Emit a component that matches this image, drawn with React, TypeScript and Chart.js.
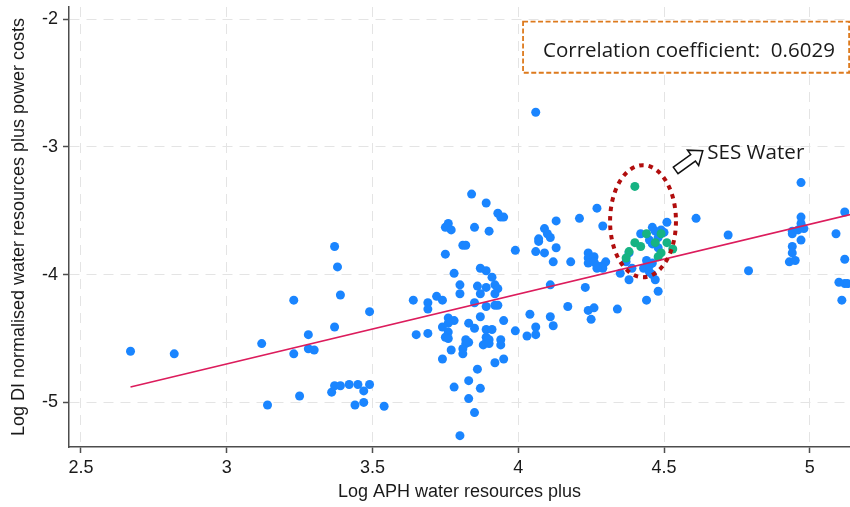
import React, { useEffect, useRef } from "react";
import { Chart, registerables } from "chart.js";

Chart.register(...registerables);

// Axis ticks
const xTicks = [2.5, 3, 3.5, 4, 4.5, 5];
const yTicks = [-5, -4, -3, -2];

// Water companies: log APH water resources plus (x) vs log DI normalised costs (y)
const companyX = [
  2.67, 2.82, 3.12, 3.14, 3.23, 3.23, 3.25, 3.28, 3.28, 3.30,
  3.37, 3.38, 3.39, 3.37, 3.36, 3.37, 3.39, 3.42, 3.45, 3.47,
  3.44, 3.47, 3.49, 3.49, 3.54, 3.64, 3.65, 3.69, 3.69, 3.69,
  3.72, 3.74, 3.75, 3.75, 3.76, 3.77, 3.78, 3.80, 3.80, 3.84,
  3.89, 3.85, 3.90, 3.93, 3.94, 3.95, 3.81, 3.82, 3.99, 3.87,
  3.89, 3.91, 3.86, 3.89, 3.87, 3.92, 3.93, 3.92, 3.85, 3.89,
  3.92, 3.93, 3.87, 3.95, 3.99, 4.03, 4.04, 3.74, 3.76, 3.78,
  3.76, 3.76, 3.75, 3.76, 3.83, 3.85, 3.77, 3.74, 3.82, 3.83,
  3.82, 3.81, 3.81, 3.89, 3.91, 3.89, 3.89, 3.90, 3.88, 3.90,
  3.94, 3.94, 3.92, 3.95, 3.86, 3.83, 3.78, 3.87, 3.83, 3.85,
  3.80, 4.06, 4.09, 4.10, 4.11, 4.07, 4.07, 4.13, 4.13, 4.06,
  4.09, 4.12, 4.18, 4.21, 4.27, 4.29, 4.24, 4.24, 4.26, 4.24,
  4.26, 4.27, 4.29, 4.30, 4.29, 4.27, 4.11, 4.23, 4.17, 4.24,
  4.26, 4.34, 4.25, 4.11, 4.06, 4.06, 4.12, 4.44, 4.48, 4.35,
  4.38, 4.39, 4.38, 4.43, 4.45, 4.46, 4.47, 4.45, 4.46, 4.37,
  4.44, 4.42, 4.46, 4.47, 4.49, 4.50, 4.51, 4.45, 4.48, 4.46,
  4.48, 4.61, 4.72, 4.79, 4.97, 4.97, 4.97, 4.94, 4.94, 4.96,
  4.98, 4.97, 4.94, 4.94, 4.93, 4.95, 5.12, 5.09, 5.12, 5.10,
  5.12, 5.13, 5.11,
];
const companyY = [
  -4.60, -4.62, -4.54, -5.02, -4.20, -4.62, -4.95, -4.47, -4.58, -4.59,
  -3.78, -3.94, -4.16, -4.41, -4.92, -4.87, -4.87, -4.86, -4.86, -4.91,
  -5.02, -5.00, -4.86, -4.29, -5.03, -4.20, -4.47, -4.22, -4.27, -4.46,
  -4.17, -4.20, -3.84, -3.63, -3.60, -3.65, -3.99, -4.08, -4.15, -3.37,
  -3.44, -3.63, -3.66, -3.52, -3.55, -3.55, -3.77, -3.77, -3.81, -3.95,
  -3.97, -4.02, -4.09, -4.10, -4.15, -4.08, -4.11, -4.15, -4.22, -4.25,
  -4.24, -4.24, -4.33, -4.36, -4.44, -4.48, -4.31, -4.41, -4.34, -4.36,
  -4.38, -4.45, -4.49, -4.50, -4.38, -4.42, -4.59, -4.66, -4.51, -4.53,
  -4.54, -4.58, -4.62, -4.43, -4.43, -4.49, -4.53, -4.51, -4.55, -4.54,
  -4.51, -4.55, -4.69, -4.66, -4.74, -4.83, -4.88, -4.89, -4.97, -5.08,
  -5.26, -2.73, -3.64, -3.68, -3.71, -3.72, -3.74, -3.58, -3.79, -3.82,
  -3.83, -3.90, -3.90, -3.56, -3.48, -3.62, -3.83, -3.87, -3.86, -3.91,
  -3.90, -3.93, -3.93, -3.90, -3.95, -3.95, -4.08, -4.10, -4.25, -4.28,
  -4.26, -4.27, -4.35, -4.33, -4.41, -4.47, -4.40, -4.20, -4.13, -3.99,
  -4.04, -3.95, -3.83, -3.95, -3.98, -4.00, -4.04, -3.93, -3.91, -3.90,
  -3.89, -3.68, -3.63, -3.66, -3.65, -3.67, -3.59, -3.73, -3.71, -3.76,
  -3.79, -3.56, -3.69, -3.97, -3.28, -3.55, -3.60, -3.66, -3.68, -3.65,
  -3.64, -3.73, -3.78, -3.83, -3.90, -3.89, -3.51, -3.68, -3.88, -4.06,
  -4.07, -4.07, -4.20,
];

// SES Water observations
const sesX = [4.40, 4.44, 4.49, 4.40, 4.42, 4.47, 4.51, 4.53, 4.38, 4.37, 4.49, 4.48];
const sesY = [-3.31, -3.68, -3.68, -3.75, -3.78, -3.75, -3.75, -3.80, -3.82, -3.87, -3.83, -3.86];

// Linear fit end points
const fitX = [2.67, 5.14];
const fitY = [-4.88, -3.53];

const correlationLabel = "Correlation coefficient:  0.6029";
const calloutLabel = "SES Water";

const AXIS_FONT = "'Liberation Sans', Arial, sans-serif";
const NOTE_FONT = "'Open Sans', 'Noto Sans', sans-serif";
const AXIS_COLOR = "#4d4d4d";

// Annotation geometry, in data units
const ring = { cx: 4.428, cy: -3.582, rx: 0.113, ry: 0.4385 };
const arrow = { x0: 4.54, y0: -3.185, x1: 4.633, y1: -3.031 };
const callout = { x: 4.648, y: -3.099 };
const noteBox = { x0: 4.0165, x1: 5.135, y0: -2.021, y1: -2.4205, tx: 4.085, ty: -2.295 };

const annotationPlugin = {
  id: "annotations",
  afterDatasetsDraw(chart: any) {
    const { ctx } = chart;
    const xs = chart.scales.x;
    const ys = chart.scales.y;
    const px = (v: number) => xs.getPixelForValue(v);
    const py = (v: number) => ys.getPixelForValue(v);

    // dotted ring around SES Water
    ctx.save();
    const cx = px(ring.cx);
    const cy = py(ring.cy);
    const rx = Math.abs(px(ring.cx + ring.rx) - cx);
    const ry = Math.abs(py(ring.cy + ring.ry) - cy);
    ctx.strokeStyle = "#b10d0d";
    ctx.lineWidth = 4;
    ctx.setLineDash([4.5, 5]);
    ctx.beginPath();
    ctx.ellipse(cx, cy, rx, ry, 0, 0, Math.PI * 2);
    ctx.stroke();
    ctx.restore();

    // outlined block arrow
    ctx.save();
    const ax0 = px(arrow.x0), ay0 = py(arrow.y0);
    const ax1 = px(arrow.x1), ay1 = py(arrow.y1);
    const len = Math.hypot(ax1 - ax0, ay1 - ay0);
    const ang = Math.atan2(ay1 - ay0, ax1 - ax0);
    const w = 4, hl = 12, hw = 9.5;
    ctx.translate(ax0, ay0);
    ctx.rotate(ang);
    ctx.beginPath();
    ctx.moveTo(0, -w);
    ctx.lineTo(len - hl, -w);
    ctx.lineTo(len - hl, -hw);
    ctx.lineTo(len, 0);
    ctx.lineTo(len - hl, hw);
    ctx.lineTo(len - hl, w);
    ctx.lineTo(0, w);
    ctx.closePath();
    ctx.fillStyle = "#ffffff";
    ctx.fill();
    ctx.strokeStyle = "#111111";
    ctx.lineWidth = 1.5;
    ctx.stroke();
    ctx.restore();

    // callout text
    ctx.save();
    ctx.font = `20.6px ${NOTE_FONT}`;
    ctx.fillStyle = "#1a1a1a";
    ctx.textBaseline = "alphabetic";
    ctx.textAlign = "left";
    ctx.fillText(calloutLabel, px(callout.x), py(callout.y));
    ctx.restore();

    // correlation note box
    ctx.save();
    const bx0 = px(noteBox.x0), bx1 = px(noteBox.x1);
    const by0 = py(noteBox.y0), by1 = py(noteBox.y1);
    ctx.fillStyle = "#ffffff";
    ctx.fillRect(bx0, by0, bx1 - bx0, by1 - by0);
    ctx.strokeStyle = "#dd7a1d";
    ctx.lineWidth = 1.8;
    ctx.setLineDash([5, 2.5]);
    ctx.strokeRect(bx0, by0, bx1 - bx0, by1 - by0);
    ctx.setLineDash([]);
    ctx.font = `20.5px ${NOTE_FONT}`;
    ctx.fillStyle = "#1a1a1a";
    ctx.textBaseline = "alphabetic";
    ctx.fillText(correlationLabel, px(noteBox.tx), py(noteBox.ty));
    ctx.restore();
  },
};

export default function App() {
  const canvasRef = useRef<HTMLCanvasElement | null>(null);

  useEffect(() => {
    document.body.style.margin = "0";
    document.body.style.overflow = "hidden";
    const canvas = canvasRef.current;
    if (!canvas) return;

    const companies = companyX.map((x, i) => ({ x, y: companyY[i] }));
    const ses = sesX.map((x, i) => ({ x, y: sesY[i] }));
    const fit = fitX.map((x, i) => ({ x, y: fitY[i] }));

    const tickFont = { family: AXIS_FONT, size: 18 };

    const chart = new Chart(canvas, {
      type: "scatter",
      data: {
        datasets: [
          {
            type: "line",
            label: "Fitted values",
            data: fit,
            borderColor: "#dc1c5c",
            borderWidth: 1.6,
            pointRadius: 0,
            fill: false,
            tension: 0,
          } as any,
          {
            label: "SES Water",
            data: ses,
            backgroundColor: "#16b383",
            borderWidth: 0,
            pointRadius: 4.5,
          },
          {
            label: "Companies",
            data: companies,
            backgroundColor: "#1a85ff",
            borderWidth: 0,
            pointRadius: 4.5,
          },
        ],
      },
      options: {
        animation: false,
        responsive: false,
        devicePixelRatio: 1,
        layout: { autoPadding: false, padding: { top: 7, right: 0, bottom: 0, left: 0 } },
        plugins: {
          legend: { display: false },
          tooltip: { enabled: false },
        },
        scales: {
          x: {
            type: "linear",
            position: "bottom",
            min: 2.459,
            max: 5.138,
            afterBuildTicks: (s: any) => {
              s.ticks = xTicks.map((value) => ({ value }));
            },
            afterFit: (s: any) => {
              s.height = 60;
              s.paddingLeft = 0;
              s.paddingRight = 0;
            },
            ticks: {
              callback: (v: any) => String(v),
              font: tickFont,
              color: "#1a1a1a",
              padding: 4,
              maxRotation: 0,
              autoSkip: false,
            },
            grid: {
              color: "#e4e4e4",
              lineWidth: 1,
              tickColor: AXIS_COLOR,
              tickLength: 6,
              tickWidth: 1.5,
            },
            border: { display: true, color: AXIS_COLOR, width: 1.5, dash: [10, 7] },
            title: {
              display: true,
              text: "Log APH water resources plus",
              font: tickFont,
              color: "#1a1a1a",
              padding: { top: 0, bottom: 4 },
            },
          },
          y: {
            type: "linear",
            min: -5.349,
            max: -1.906,
            afterBuildTicks: (s: any) => {
              s.ticks = yTicks.map((value) => ({ value }));
            },
            afterFit: (s: any) => {
              s.width = 69;
              s.paddingTop = 0;
              s.paddingBottom = 0;
            },
            ticks: {
              callback: (v: any) => String(v),
              font: tickFont,
              color: "#1a1a1a",
              padding: 5,
              autoSkip: false,
            },
            grid: {
              color: "#e4e4e4",
              lineWidth: 1,
              tickColor: AXIS_COLOR,
              tickLength: 6,
              tickWidth: 1.5,
            },
            border: { display: true, color: AXIS_COLOR, width: 1.5, dash: [10, 7] },
            title: {
              display: true,
              text: "Log DI normalised water resources plus power costs",
              font: tickFont,
              color: "#1a1a1a",
              padding: { top: 8, bottom: 0 },
            },
          },
        },
      },
      plugins: [annotationPlugin],
    });

    return () => chart.destroy();
  }, []);

  return (
    <canvas
      ref={canvasRef}
      width={850}
      height={507}
      style={{ display: "block", width: 850, height: 507 }}
    />
  );
}
